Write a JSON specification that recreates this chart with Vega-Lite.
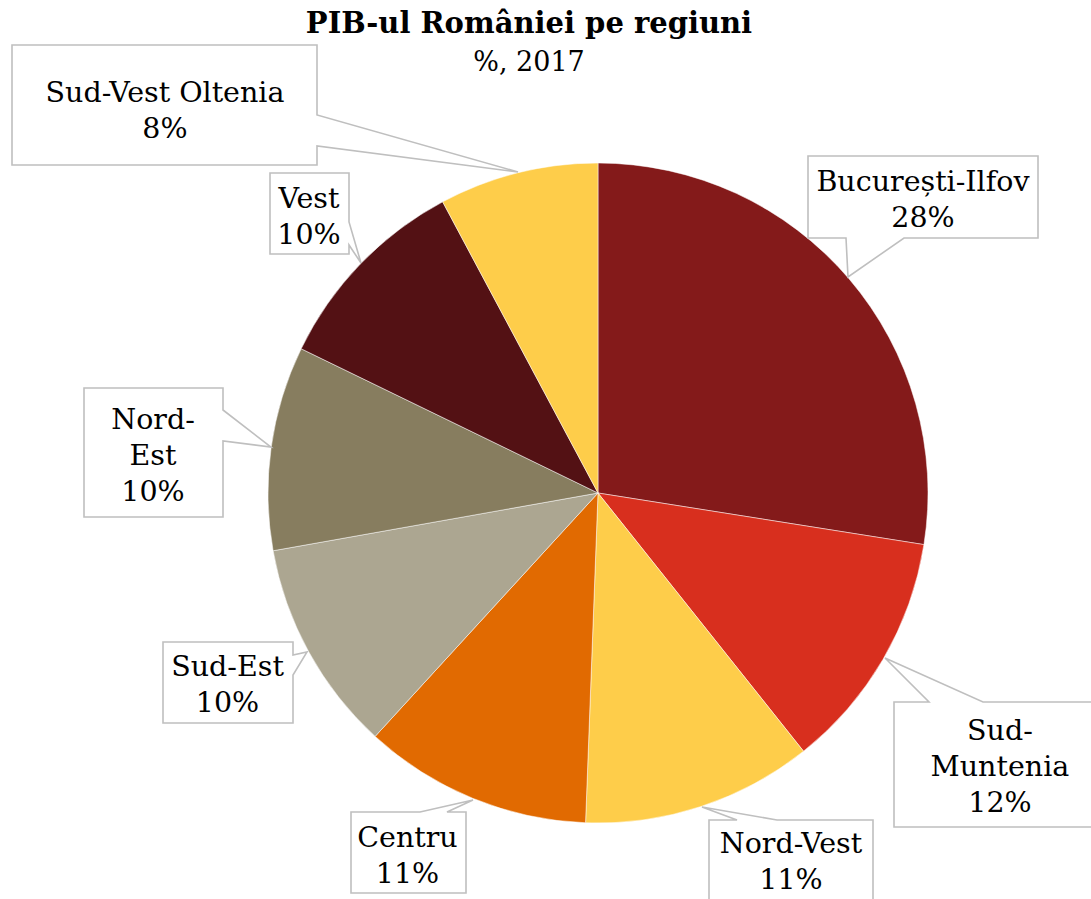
{
  "$schema": "https://vega.github.io/schema/vega-lite/v6.json",
  "autosize": {"type": "none"},
  "padding": {"left": 105, "top": 87, "right": 0, "bottom": 0},
  "width": 986,
  "height": 812,
  "background": "#ffffff",
  "config": {"view": {"stroke": null}},
  "title": {
    "text": "PIB-ul României pe regiuni",
    "subtitle": "%, 2017",
    "anchor": "middle",
    "dx": -69,
    "offset": -34,
    "font": "DejaVu Serif",
    "fontSize": 29,
    "fontWeight": "bold",
    "color": "#000000",
    "subtitleFont": "DejaVu Serif",
    "subtitleFontSize": 27,
    "subtitleColor": "#000000",
    "subtitlePadding": 11
  },
  "data": {
    "values": [
      {"region": "București-Ilfov", "label": "București-Ilfov", "value": 27.5},
      {"region": "Sud-Muntenia", "label": "Sud-\nMuntenia", "value": 11.8},
      {"region": "Nord-Vest", "label": "Nord-Vest", "value": 11.3},
      {"region": "Centru", "label": "Centru", "value": 11.2},
      {"region": "Sud-Est", "label": "Sud-Est", "value": 10.4},
      {"region": "Nord-Est", "label": "Nord-\nEst", "value": 10.0},
      {"region": "Vest", "label": "Vest", "value": 10.0},
      {"region": "Sud-Vest Oltenia", "label": "Sud-Vest Oltenia", "value": 7.8}
    ]
  },
  "transform": [
    {"window": [{"op": "sum", "field": "value", "as": "end"}], "frame": [null, 0]},
    {"calculate": "datum.end - datum.value", "as": "start"},
    {"calculate": "datum.end - datum.value / 2", "as": "mid"},
    {"calculate": "datum.label + '\\n' + format(datum.value, '.0f') + '%'", "as": "txt"}
  ],
  "layer": [
    {
      "mark": {"type": "arc", "outerRadius": 330, "stroke": "#ffffff", "strokeWidth": 0.5},
      "encoding": {
        "theta": {"field": "start", "type": "quantitative", "scale": {"domain": [0, 100]}},
        "theta2": {"field": "end"},
        "color": {
          "field": "region",
          "type": "nominal",
          "legend": null,
          "scale": {
            "domain": ["București-Ilfov", "Sud-Muntenia", "Nord-Vest", "Centru", "Sud-Est", "Nord-Est", "Vest", "Sud-Vest Oltenia"],
            "range": ["#841A1A", "#D82F1E", "#FECD4A", "#E16A01", "#ACA691", "#877D5F", "#531114", "#FECD4A"]
          }
        }
      }
    },
    {
      "transform": [{"filter": "datum.region === 'București-Ilfov'"}],
      "layer": [
        {"mark": {"type": "point", "shape": "M210,-337 L440,-337 L440,-255 L306,-255 L250,-216 L248,-255 L210,-255 Z", "size": 4, "filled": true, "fill": "#ffffff", "stroke": "#BFBFBF", "strokeWidth": 1.6, "opacity": 1, "fillOpacity": 1, "strokeOpacity": 1}},
        {"mark": {"type": "text", "font": "DejaVu Serif", "fontSize": 28.5, "lineHeight": 36, "lineBreak": "\n", "align": "center", "baseline": "middle", "radius": 440, "dx": -9.6, "dy": -25.5, "fill": "#000000"}, "encoding": {"theta": {"field": "mid", "type": "quantitative"}, "text": {"field": "txt"}}}
      ]
    },
    {
      "transform": [{"filter": "datum.region === 'Sud-Muntenia'"}],
      "layer": [
        {"mark": {"type": "point", "shape": "M296,209 L331,209 L287,165 L385,209 L508,209 L508,334 L296,334 Z", "size": 4, "filled": true, "fill": "#ffffff", "stroke": "#BFBFBF", "strokeWidth": 1.6, "opacity": 1, "fillOpacity": 1, "strokeOpacity": 1}},
        {"mark": {"type": "text", "font": "DejaVu Serif", "fontSize": 28.5, "lineHeight": 36, "lineBreak": "\n", "align": "center", "baseline": "middle", "radius": 440, "dx": 21.8, "dy": 16.5, "fill": "#000000"}, "encoding": {"theta": {"field": "mid", "type": "quantitative"}, "text": {"field": "txt"}}}
      ]
    },
    {
      "transform": [{"filter": "datum.region === 'Nord-Vest'"}],
      "layer": [
        {"mark": {"type": "point", "shape": "M111,327 L139,327 L104,314 L179,327 L275,327 L275,412 L111,412 Z", "size": 4, "filled": true, "fill": "#ffffff", "stroke": "#BFBFBF", "strokeWidth": 1.6, "opacity": 1, "fillOpacity": 1, "strokeOpacity": 1}},
        {"mark": {"type": "text", "font": "DejaVu Serif", "fontSize": 28.5, "lineHeight": 36, "lineBreak": "\n", "align": "center", "baseline": "middle", "radius": 440, "dx": 55.7, "dy": -67, "fill": "#000000"}, "encoding": {"theta": {"field": "mid", "type": "quantitative"}, "text": {"field": "txt"}}}
      ]
    },
    {
      "transform": [{"filter": "datum.region === 'Centru'"}],
      "layer": [
        {"mark": {"type": "point", "shape": "M-247,319 L-178,319 L-125,307 L-151,319 L-132,319 L-132,400 L-247,400 Z", "size": 4, "filled": true, "fill": "#ffffff", "stroke": "#BFBFBF", "strokeWidth": 1.6, "opacity": 1, "fillOpacity": 1, "strokeOpacity": 1}},
        {"mark": {"type": "text", "font": "DejaVu Serif", "fontSize": 28.5, "lineHeight": 36, "lineBreak": "\n", "align": "center", "baseline": "middle", "radius": 440, "dx": -23.4, "dy": -62, "fill": "#000000"}, "encoding": {"theta": {"field": "mid", "type": "quantitative"}, "text": {"field": "txt"}}}
      ]
    },
    {
      "transform": [{"filter": "datum.region === 'Sud-Est'"}],
      "layer": [
        {"mark": {"type": "point", "shape": "M-435,149 L-305,149 L-305,162 L-291,159 L-305,182 L-305,230 L-435,230 Z", "size": 4, "filled": true, "fill": "#ffffff", "stroke": "#BFBFBF", "strokeWidth": 1.6, "opacity": 1, "fillOpacity": 1, "strokeOpacity": 1}},
        {"mark": {"type": "text", "font": "DejaVu Serif", "fontSize": 28.5, "lineHeight": 36, "lineBreak": "\n", "align": "center", "baseline": "middle", "radius": 440, "dx": 15.1, "dy": -37.5, "fill": "#000000"}, "encoding": {"theta": {"field": "mid", "type": "quantitative"}, "text": {"field": "txt"}}}
      ]
    },
    {
      "transform": [{"filter": "datum.region === 'Nord-Est'"}],
      "layer": [
        {"mark": {"type": "point", "shape": "M-514,-105 L-375,-105 L-375,-83 L-327,-46 L-375,-52 L-375,24 L-514,24 Z", "size": 4, "filled": true, "fill": "#ffffff", "stroke": "#BFBFBF", "strokeWidth": 1.6, "opacity": 1, "fillOpacity": 1, "strokeOpacity": 1}},
        {"mark": {"type": "text", "font": "DejaVu Serif", "fontSize": 28.5, "lineHeight": 36, "lineBreak": "\n", "align": "center", "baseline": "middle", "radius": 440, "dx": -9.2, "dy": -12.4, "fill": "#000000"}, "encoding": {"theta": {"field": "mid", "type": "quantitative"}, "text": {"field": "txt"}}}
      ]
    },
    {
      "transform": [{"filter": "datum.region === 'Vest'"}],
      "layer": [
        {"mark": {"type": "point", "shape": "M-328,-320 L-249,-320 L-249,-271 L-237,-230 L-249,-248 L-249,-239 L-328,-239 Z", "size": 4, "filled": true, "fill": "#ffffff", "stroke": "#BFBFBF", "strokeWidth": 1.6, "opacity": 1, "fillOpacity": 1, "strokeOpacity": 1}},
        {"mark": {"type": "text", "font": "DejaVu Serif", "fontSize": 28.5, "lineHeight": 36, "lineBreak": "\n", "align": "center", "baseline": "middle", "radius": 440, "dx": 27.9, "dy": 11.7, "fill": "#000000"}, "encoding": {"theta": {"field": "mid", "type": "quantitative"}, "text": {"field": "txt"}}}
      ]
    },
    {
      "transform": [{"filter": "datum.region === 'Sud-Vest Oltenia'"}],
      "layer": [
        {"mark": {"type": "point", "shape": "M-586,-448 L-281,-448 L-281,-378 L-80,-321 L-281,-347 L-281,-328 L-586,-328 Z", "size": 4, "filled": true, "fill": "#ffffff", "stroke": "#BFBFBF", "strokeWidth": 1.6, "opacity": 1, "fillOpacity": 1, "strokeOpacity": 1}},
        {"mark": {"type": "text", "font": "DejaVu Serif", "fontSize": 28.5, "lineHeight": 36, "lineBreak": "\n", "align": "center", "baseline": "middle", "radius": 440, "dx": -326.3, "dy": 27, "fill": "#000000"}, "encoding": {"theta": {"field": "mid", "type": "quantitative"}, "text": {"field": "txt"}}}
      ]
    }
  ]
}
